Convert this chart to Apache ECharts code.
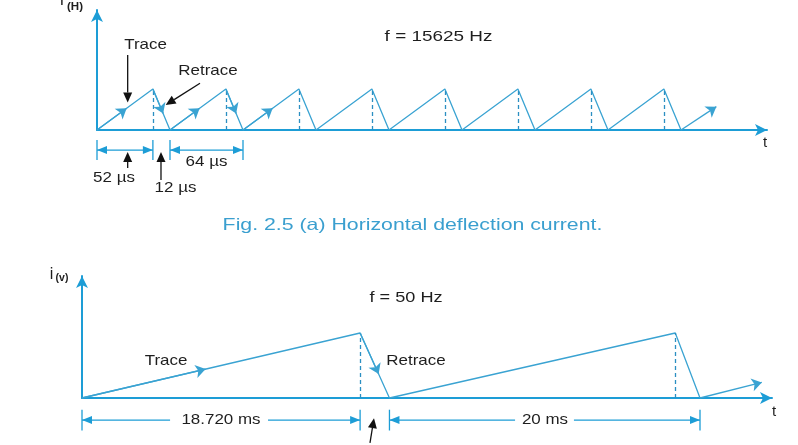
<!DOCTYPE html>
<html><head><meta charset="utf-8">
<script src="https://cdn.jsdelivr.net/npm/echarts@6/dist/echarts.min.js"></script>
<style>html,body{margin:0;padding:0;background:#fff}#c{width:798px;height:445px}</style>
</head><body><div id="c"></div>
<script>
// ---------- Horizontal deflection current (time in µs, current in relative units) ----------
const hTroughs = [0, 64, 128, 192, 256, 320, 384, 448, 512];
const hPeaks = [49, 113, 177, 241, 305, 369, 433, 497];
const hPeakValue = 1;
const hTail = [543, 0.57];                 // last rising stroke (arrow)
const hTraceArrowAt = 26;                  // µs after each trough
const hTraceArrowCycles = 3;
const hRetraceArrowAt = 9;                 // µs after each peak
const hRetraceArrowCycles = 2;
const hDimY = -0.49;
const hDimTick = 0.245;
const hDims = [[0, 49], [64, 128]];        // dimension spans
const hCallouts = [                        // black arrows: [from, to(tip)]
  [[26.9, 1.83], [26.9, 0.67]],
  [[90.3, 1.14], [60.2, 0.61]],
  [[26.9, -0.93], [26.9, -0.54]],
  [[56.1, -1.22], [56.1, -0.54]]
];

// ---------- Vertical deflection current (time in ms) ----------
const vTroughs = [0, 19.9, 40.0];
const vPeaks = [18.0, 38.4];
const vPeakValue = 1;
const vTail = [44.0, 0.24];
const vTraceArrowAt = 8.0;
const vTraceArrowCycles = 1;
const vRetraceArrowAt = 1.2;
const vRetraceArrowCycles = 1;
const vDimY = -0.34;
const vDimTick = 0.16;
const vDims = [[0, 18.0, 5.7, 12.04], [19.9, 40.0, 28.03, 31.84]]; // [start, end, gapStart, gapEnd]
const vCallouts = [
  [[18.64, -0.69], [18.9, -0.31]]
];

const AX = '#1d9dd6', LN = '#3aa3d2', DS = '#2b8fc2', TX = '#1e1e1e';

function saw(troughs, peaks, pv) {
  const d = [];
  for (let i = 0; i < peaks.length; i++) { d.push([troughs[i], 0]); d.push([peaks[i], pv]); }
  d.push([troughs[peaks.length], 0]);
  return d;
}
function marks(troughs, peaks, pv, tail, tA, tN, rA, rN) {
  const m = [];
  peaks.forEach(p => m.push([{coord: [p, 0], symbol: 'none', lineStyle: {type: [4, 3], color: DS, width: 1.3}}, {coord: [p, pv], symbol: 'none'}]));
  for (let i = 0; i < tN; i++) {
    const t0 = troughs[i], p = peaks[i];
    m.push([{coord: [t0, 0], symbol: 'none'}, {coord: [t0 + tA, pv * tA / (p - t0)], symbol: 'arrow'}]);
  }
  for (let i = 0; i < rN; i++) {
    const p = peaks[i], t1 = troughs[i + 1];
    m.push([{coord: [p, pv], symbol: 'none'}, {coord: [p + rA, pv * (1 - rA / (t1 - p))], symbol: 'arrow'}]);
  }
  const last = troughs[troughs.length - 1];
  m.push([{coord: [last, 0], symbol: 'none'}, {coord: tail, symbol: 'arrow'}]);
  return m;
}
function axisPair(idx, xmax, ymax) {
  const line = {show: true, onZero: false, symbol: ['none', 'arrow'], symbolSize: [9, 12], lineStyle: {color: AX, width: 2}};
  return {
    x: {type: 'value', gridIndex: idx, min: 0, max: xmax, axisLine: line, axisTick: {show: false}, axisLabel: {show: false}, splitLine: {show: false}},
    y: {type: 'value', gridIndex: idx, min: 0, max: ymax, axisLine: line, axisTick: {show: false}, axisLabel: {show: false}, splitLine: {show: false}}
  };
}
const a0 = axisPair(0, 587.4, 2.93), a1 = axisPair(1, 44.66, 1.877);

const chart = echarts.init(document.getElementById('c'));
chart.setOption({
  animation: false,
  backgroundColor: '#fff',
  grid: [
    {left: 97, right: 31, top: 10, bottom: 315},
    {left: 82, right: 26, top: 276, bottom: 47}
  ],
  xAxis: [a0.x, a1.x],
  yAxis: [a0.y, a1.y],
  series: [
    {type: 'line', xAxisIndex: 0, yAxisIndex: 0, data: saw(hTroughs, hPeaks, hPeakValue), symbol: 'none', silent: true,
     lineStyle: {color: LN, width: 1.3},
     markLine: {silent: true, animation: false, symbolSize: 10, label: {show: false}, lineStyle: {color: LN, width: 1.3, type: 'solid'},
                emphasis: {disabled: true}, data: marks(hTroughs, hPeaks, hPeakValue, hTail, hTraceArrowAt, hTraceArrowCycles, hRetraceArrowAt, hRetraceArrowCycles)}},
    {type: 'line', xAxisIndex: 1, yAxisIndex: 1, data: saw(vTroughs, vPeaks, vPeakValue), symbol: 'none', silent: true,
     lineStyle: {color: LN, width: 1.3},
     markLine: {silent: true, animation: false, symbolSize: 10, label: {show: false}, lineStyle: {color: LN, width: 1.3, type: 'solid'},
                emphasis: {disabled: true}, data: marks(vTroughs, vPeaks, vPeakValue, vTail, vTraceArrowAt, vTraceArrowCycles, vRetraceArrowAt, vRetraceArrowCycles)}}
  ]
});

// ---------- annotations positioned through the axes' scales ----------
function px(g, p) { return chart.convertToPixel({xAxisIndex: g, yAxisIndex: g}, p); }
function head(tip, tail, len, wid) {
  const dx = tip[0] - tail[0], dy = tip[1] - tail[1], d = Math.hypot(dx, dy) || 1, ux = dx / d, uy = dy / d;
  const bx = tip[0] - ux * len, by = tip[1] - uy * len;
  return {base: [bx, by], pts: [[tip[0], tip[1]], [bx - uy * wid / 2, by + ux * wid / 2], [bx + uy * wid / 2, by - ux * wid / 2]]};
}
const els = [];
function seg(a, b, color, w) { els.push({type: 'line', silent: true, shape: {x1: a[0], y1: a[1], x2: b[0], y2: b[1]}, style: {stroke: color, lineWidth: w}}); }
function arrow(tail, tip, color, w, len, wid, drawLine) {
  const h = head(tip, tail, len, wid);
  if (drawLine !== false) seg(tail, h.base, color, w);
  els.push({type: 'polygon', silent: true, shape: {points: h.pts}, style: {fill: color}});
}
function text(str, x, y, size, color, sx, weight) {
  els.push({type: 'text', silent: true, x: x, y: y, scaleX: sx || 1.13,
    style: {text: str, x: 0, y: 0, align: 'center', verticalAlign: 'middle',
            font: (weight ? weight + ' ' : '') + size + 'px "Liberation Sans", Arial, sans-serif', fill: color}});
}
// top dimensions
hDims.forEach(([s, e]) => {
  const A = px(0, [s, hDimY]), B = px(0, [e, hDimY]);
  seg(A, B, AX, 1.3);
  arrow(B, A, AX, 1.3, 10, 8, false);
  arrow(A, B, AX, 1.3, 10, 8, false);
  [s, e].forEach(v => seg(px(0, [v, hDimY + hDimTick]), px(0, [v, hDimY - hDimTick]), AX, 1.3));
});
hCallouts.forEach(([f, t]) => arrow(px(0, f), px(0, t), '#111', 1.3, 10, 9));
// bottom dimensions
vDims.forEach(([s, e, g1, g2]) => {
  const A = px(1, [s, vDimY]), B = px(1, [e, vDimY]), G1 = px(1, [g1, vDimY]), G2 = px(1, [g2, vDimY]);
  seg(A, G1, AX, 1.3); seg(G2, B, AX, 1.3);
  arrow(G1, A, AX, 1.3, 10, 8, false);
  arrow(G2, B, AX, 1.3, 10, 8, false);
  [s, e].forEach(v => seg(px(1, [v, vDimY + vDimTick]), px(1, [v, vDimY - vDimTick]), AX, 1.3));
});
vCallouts.forEach(([f, t]) => arrow(px(1, f), px(1, t), '#111', 1.3, 10, 9));

// texts
text('i', 62, 0, 17, TX, 1);
text('(H)', 75, 7, 11, TX, 1.05, 'bold');
text('Trace', 145.5, 45, 15, TX);
text('Retrace', 208, 71, 15, TX);
text('f = 15625 Hz', 438.5, 37, 15.5, TX, 1.22);
text('52 µs', 114, 178, 15, TX);
text('12 µs', 175.5, 188, 15, TX);
text('64 µs', 206.5, 162, 15, TX);
text('t', 765, 143, 15, TX, 1);
text('Fig. 2.5 (a) Horizontal deflection current.', 412.5, 225, 16.5, '#3a9fcf', 1.29);
text('i', 51.5, 275, 16, TX, 1);
text('(v)', 62, 278, 10, TX, 1.05, 'bold');
text('f = 50 Hz', 406, 298, 15.5, TX, 1.17);
text('Trace', 166, 361, 15, TX);
text('Retrace', 416, 361, 15, TX);
text('18.720 ms', 221, 420, 15, TX);
text('20 ms', 545, 420, 15, TX);
text('t', 774, 412, 15, TX, 1);

chart.setOption({graphic: {elements: els}});
</script></body></html>
